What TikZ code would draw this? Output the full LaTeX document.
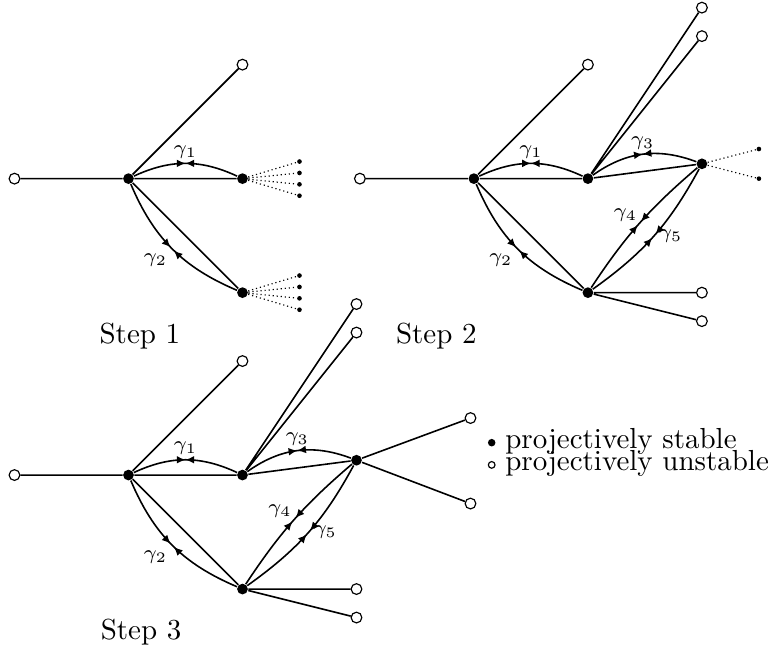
\documentclass[tikz,border=0pt]{standalone}
\usetikzlibrary{arrows.meta,decorations.markings}
\newcommand{\sizestable}{3.7pt}
\newcommand{\sizeunstable}{3.7pt}
\newcommand{\sizeleaf}{1.6pt}
\newcommand{\gtip}{Latex[length=3pt,width=2.7pt]}
\tikzset{
    stable/.style={circle, fill, inner sep=0pt, minimum size=\sizestable},
    unstable/.style={circle, draw, fill=white, inner sep=0pt, minimum size=\sizeunstable},
    leaf/.style={circle, fill, inner sep=0pt, minimum size=\sizeleaf},
    link/.style={line width=0.55pt},
    loose/.style={densely dotted, line width=0.4pt},
    gamma/.style={link, postaction={decorate, decoration={markings,
        mark=at position #1 with {\arrow{\gtip}},
        mark=at position 1-#1 with {\arrowreversed{\gtip}}}}},
    gamma/.default=0.5,
    glabel/.style={font=\scriptsize, inner sep=1.5pt},
    legend/.style={anchor=base west, inner sep=0pt}
}
\begin{document}
\begin{tikzpicture}[x=1.382cm, y=1.382cm]
\useasboundingbox (-1.127,-4.118) rectangle (5.636,1.567);

\node[unstable] (L1) at (-1,0) {};
\node[stable] (A1) at (0,0) {};
\node[stable] (B1) at (1,0) {};
\node[stable] (C1) at (1,-1) {};
\node[unstable] (T1) at (1,1) {};
\foreach \k/\y/\z in {1/0.15/-0.85, 2/0.05/-0.95, 3/-0.05/-1.05, 4/-0.15/-1.15} {
    \node[leaf] (B1\k) at (1.5,\y) {};
    \node[leaf] (C1\k) at (1.5,\z) {};
    \draw[loose] (B1) -- (B1\k) (C1) -- (C1\k);
}
\draw[link] (L1) -- (A1) (A1) -- (T1) (A1) -- (B1) (A1) -- (C1);
\draw[gamma] (A1) to[bend left=25] node[glabel, above] {$\gamma_1$} (B1);
\draw[gamma=0.485] (A1) to[bend right=22] node[glabel, below left] {$\gamma_2$} (C1);
\node (S1) at (0.1,-1.385) {Step 1};

\node[unstable] (L2) at (2.03,0) {};
\node[stable] (A2) at (3.03,0) {};
\node[stable] (B2) at (4.03,0) {};
\node[stable] (C2) at (4.03,-1) {};
\node[stable] (D2) at (5.03,0.13) {};
\node[unstable] (T2) at (4.03,1) {};
\node[unstable] (U2a) at (5.03,1.5) {};
\node[unstable] (U2b) at (5.03,1.25) {};
\node[unstable] (R2a) at (5.03,-1) {};
\node[unstable] (R2b) at (5.03,-1.25) {};
\node[leaf] (D2a) at (5.53,0.26) {};
\node[leaf] (D2b) at (5.53,0) {};
\draw[link] (L2) -- (A2) (A2) -- (T2) (A2) -- (B2) (A2) -- (C2)
    (B2) -- (U2a) (B2) -- (U2b) (B2) -- (D2) (C2) -- (R2a) (C2) -- (R2b);
\draw[loose] (D2) -- (D2a) (D2) -- (D2b);
\draw[gamma] (A2) to[bend left=25] node[glabel, above] {$\gamma_1$} (B2);
\draw[gamma=0.485] (A2) to[bend right=22] node[glabel, below left] {$\gamma_2$} (C2);
\draw[gamma] (B2) to[bend left=28] node[glabel, above] {$\gamma_3$} (D2);
\draw[gamma=0.485] (C2) to[bend left=8] node[glabel, above left, inner sep=0.5pt] {$\gamma_4$} (D2);
\draw[gamma=0.485] (C2) to[bend right=13] node[glabel, right] {$\gamma_5$} (D2);
\node (S2) at (2.70,-1.385) {Step 2};

\node[unstable] (L3) at (-1,-2.6) {};
\node[stable] (A3) at (0,-2.6) {};
\node[stable] (B3) at (1,-2.6) {};
\node[stable] (C3) at (1,-3.6) {};
\node[stable] (D3) at (2,-2.47) {};
\node[unstable] (T3) at (1,-1.6) {};
\node[unstable] (U3a) at (2,-1.1) {};
\node[unstable] (U3b) at (2,-1.35) {};
\node[unstable] (E3a) at (3,-2.1) {};
\node[unstable] (E3b) at (3,-2.85) {};
\node[unstable] (R3a) at (2,-3.6) {};
\node[unstable] (R3b) at (2,-3.85) {};
\draw[link] (L3) -- (A3) (A3) -- (T3) (A3) -- (B3) (A3) -- (C3)
    (B3) -- (U3a) (B3) -- (U3b) (B3) -- (D3) (D3) -- (E3a) (D3) -- (E3b)
    (C3) -- (R3a) (C3) -- (R3b);
\draw[gamma] (A3) to[bend left=25] node[glabel, above] {$\gamma_1$} (B3);
\draw[gamma=0.485] (A3) to[bend right=22] node[glabel, below left] {$\gamma_2$} (C3);
\draw[gamma] (B3) to[bend left=28] node[glabel, above] {$\gamma_3$} (D3);
\draw[gamma=0.485] (C3) to[bend left=8] node[glabel, above left, inner sep=0.5pt] {$\gamma_4$} (D3);
\draw[gamma=0.485] (C3) to[bend right=13] node[glabel, right] {$\gamma_5$} (D3);
\node (S3) at (0.11,-3.98) {Step 3};

\node[stable, minimum size=2.6pt] (KS) at (3.186,-2.316) {};
\node[unstable, minimum size=2.3pt, line width=0.4pt] (KU) at (3.186,-2.511) {};
\node[legend] (KSt) at (3.30,-2.366) {projectively stable};
\node[legend] (KUt) at (3.30,-2.556) {projectively unstable};
\end{tikzpicture}
\end{document}
